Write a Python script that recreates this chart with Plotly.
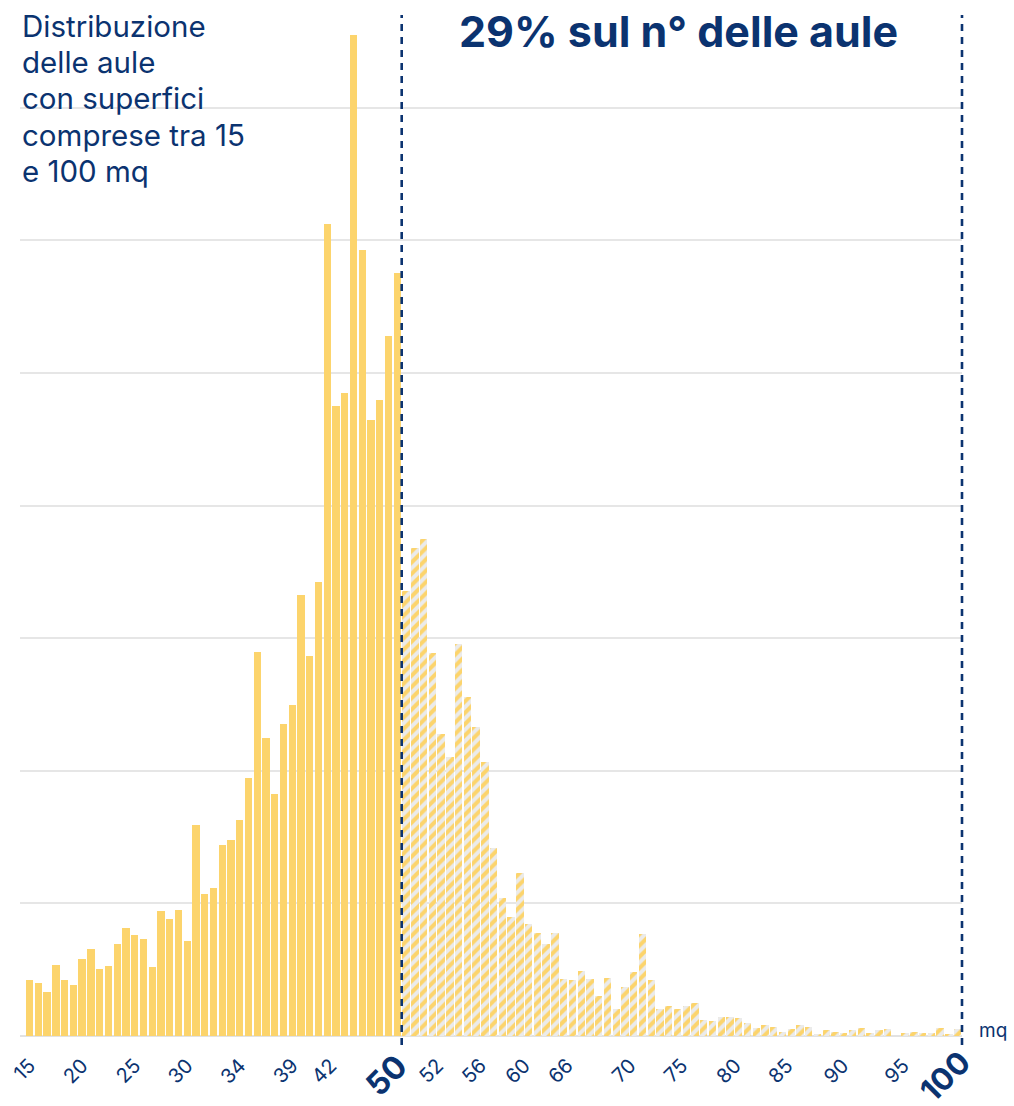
import plotly.graph_objects as go

# --- data ---
solid_counts = [21.1, 20.1, 16.6, 26.7, 21.1, 19.2, 28.9, 32.7, 25.2, 26.4,
                34.6, 40.6, 38.0, 36.6, 26.1, 47.1, 44.1, 47.4, 35.8, 79.6,
                53.7, 55.9, 72.1, 73.9, 81.6, 97.4, 144.7, 112.4, 91.1, 117.5,
                124.7, 166.4, 143.2, 171.3, 306.3, 237.7, 242.3, 377.4, 296.4, 232.4,
                239.7, 264.0, 287.8]
hatched_counts = [167.9, 183.9, 187.3, 144.3, 113.9, 105.2, 147.8, 127.8, 116.4, 103.3,
                  70.8, 52.2, 44.7, 61.4, 42.3, 38.9, 34.6, 38.8, 21.6, 21.1,
                  24.5, 21.5, 15.1, 21.9, 10.1, 18.5, 24.0, 38.3, 21.1, 10.1,
                  11.4, 10.2, 11.3, 12.3, 6.0, 5.5, 7.3, 7.3, 6.7, 5.0,
                  3.1, 4.1, 3.5, 1.5, 2.5, 4.3, 3.5, 0.9, 2.3, 1.5,
                  1.0, 2.3, 2.9, 1.2, 2.3, 2.5, 0.0, 1.2, 1.6, 1.1,
                  1.0, 3.0, 0.8, 2.6]
solid_pos = list(range(len(solid_counts)))
hatched_pos = [len(solid_counts) + i for i in range(len(hatched_counts))]

tick_labels = ["15", "20", "25", "30", "34", "39", "42", "52", "56", "60",
               "66", "70", "75", "80", "85", "90", "95"]
tick_positions = [0, 6, 12, 18, 24, 30, 34.4, 46.6, 51.5, 56.5,
                  61.4, 68.6, 74.5, 80.6, 86.5, 92.9, 99.8]
key_labels = ["50", "100"]
key_positions = [42.5, 106.5]

intro_lines = ["Distribuzione", "delle aule", "con superfici", "comprese tra 15", "e 100 mq"]

NAVY = "#0b3370"
YELLOW = "#fcd46c"
W, H = 1014, 1106
ML, MR, MT, MB = 20, 52, 15, 70
PW, PH = W - ML - MR, H - MT - MB
X_RANGE = [-1.1, 106.5]


def px_x(x):
    return (x - ML) / PW


def px_y(y):
    return (H - MB - y) / PH


def data_to_paper_x(v):
    return (v - X_RANGE[0]) / (X_RANGE[1] - X_RANGE[0])


fig = go.Figure()
fig.add_trace(go.Bar(x=solid_pos, y=solid_counts, width=0.84,
                     marker=dict(color=YELLOW, line=dict(width=0)),
                     hoverinfo="skip", showlegend=False))
fig.add_trace(go.Bar(x=hatched_pos, y=hatched_counts, width=0.84,
                     marker=dict(color="#ebebeb", line=dict(width=0),
                                 pattern=dict(shape="/", fgcolor=YELLOW, bgcolor="#ebebeb",
                                              size=8, solidity=0.5, fillmode="replace")),
                     hoverinfo="skip", showlegend=False))

fig.update_layout(
    width=W, height=H,
    margin=dict(l=ML, r=MR, t=MT, b=MB, autoexpand=False),
    plot_bgcolor="white", paper_bgcolor="white",
    font=dict(family="Inter, Roboto, sans-serif", color=NAVY),
    bargap=0,
    xaxis=dict(range=X_RANGE, tickmode="array", tickvals=tick_positions, ticktext=tick_labels,
               tickangle=-45, tickfont=dict(size=20, color=NAVY), showgrid=False,
               zeroline=False, showline=False, ticks="outside", ticklen=9,
               tickcolor="rgba(0,0,0,0)", automargin=False),
    yaxis=dict(range=[0, 385], dtick=50, showticklabels=False, gridcolor="#e6e6e6",
               gridwidth=1.5, zeroline=True, zerolinecolor="#e2e2e2", zerolinewidth=2,
               ticks="", automargin=False),
)

for xv in key_positions:
    xp = data_to_paper_x(xv)
    fig.add_shape(type="line", xref="paper", yref="paper", x0=xp, x1=xp,
                  y0=px_y(1045), y1=px_y(15),
                  line=dict(color=NAVY, width=2.6, dash="7px,6px"))

# bold key labels at the two dashed boundaries (centre of rotated label box)
key_offsets = [(-16, 1075, 32), (-18, 1076, 31)]
for lab, xv, (dx, cy, fs) in zip(key_labels, key_positions, key_offsets):
    xp = data_to_paper_x(xv) + dx / PW
    fig.add_annotation(xref="paper", yref="paper", x=xp, y=px_y(cy),
                       xanchor="center", yanchor="middle", showarrow=False, textangle=-45,
                       text=f"<b>{lab}</b>", font=dict(size=fs, color=NAVY))

for i, line in enumerate(intro_lines):
    fig.add_annotation(xref="paper", yref="paper", x=px_x(20), y=px_y(6 + 36.2 * i),
                       xanchor="left", yanchor="top", align="left", showarrow=False,
                       text=line, font=dict(size=29.5, color=NAVY))
fig.add_annotation(xref="paper", yref="paper", x=px_x(678), y=px_y(31),
                   xanchor="center", yanchor="middle", showarrow=False,
                   text="<b>29% sul n° delle aule</b>", font=dict(size=43, color=NAVY))
fig.add_annotation(xref="paper", yref="paper", x=px_x(977), y=px_y(1030),
                   xanchor="left", yanchor="middle", showarrow=False,
                   text="mq", font=dict(size=19, color=NAVY))

fig.write_html("out.html", config={"displayModeBar": False},
               post_script="document.body.style.margin='0px';")
